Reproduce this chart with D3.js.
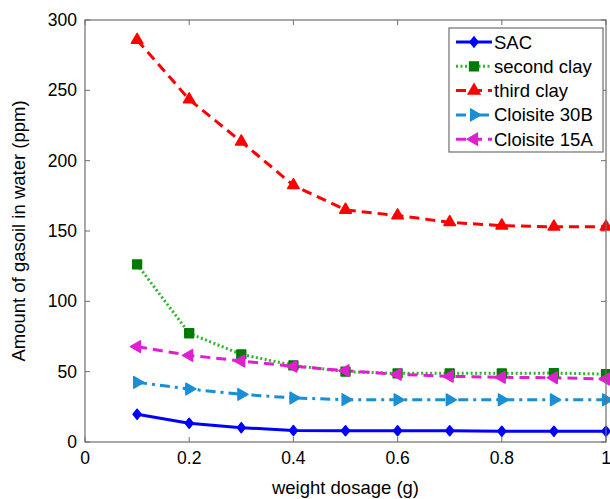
<!DOCTYPE html>
<html>
<head>
<meta charset="utf-8">
<script src="https://cdn.jsdelivr.net/npm/d3@7"></script>
<style>
  html, body { margin: 0; padding: 0; background: #fff; }
  svg { display: block; font-family: "Liberation Sans", Arial, sans-serif; }
</style>
</head>
<body>
<svg id="chart" width="610" height="499"></svg>
<script>
// Gasoil remaining in water vs. adsorbent dosage
const dosage = [0.1, 0.2, 0.3, 0.4, 0.5, 0.6, 0.7, 0.8, 0.9, 1.0];
const sac         = [19.7, 13.3, 10.2, 8.1, 8.0, 8.0, 8.0, 7.6, 7.6, 7.6];
const secondClay  = [126.3, 77.3, 62.3, 54.5, 50.0, 48.8, 48.8, 48.8, 49.0, 48.3];
const thirdClay   = [285.8, 243.5, 213.5, 182.5, 165.0, 161.0, 156.2, 153.8, 153.0, 153.0];
const cloisite30B = [42.4, 37.7, 33.9, 31.3, 30.1, 30.0, 30.0, 30.0, 30.0, 30.0];
const cloisite15A = [67.8, 61.6, 57.6, 53.8, 50.7, 48.1, 46.7, 46.0, 45.7, 44.8];
const seriesNames = ["SAC", "second clay", "third clay", "Cloisite 30B", "Cloisite 15A"];
const xTicks = [0, 0.2, 0.4, 0.6, 0.8, 1];
const yTicks = [0, 50, 100, 150, 200, 250, 300];

// Rhombus marker a little wider than d3's built-in diamond
const rhombus = {
  draw(ctx, size) {
    const h = Math.sqrt(size * 0.6), w = h * 0.8;
    ctx.moveTo(0, -h); ctx.lineTo(w, 0); ctx.lineTo(0, h); ctx.lineTo(-w, 0); ctx.closePath();
  }
};

const series = [
  { name: seriesNames[0], values: sac,         line: "#0000ff", fill: "#0000ff", dash: null,       symbol: rhombus,           size: 42, rot: 0 },
  { name: seriesNames[1], values: secondClay,  line: "#2db52d", fill: "#007a00", dash: "2,2.5",    symbol: d3.symbolSquare,   size: 78, rot: 0 },
  { name: seriesNames[2], values: thirdClay,   line: "#ff0000", fill: "#ff0000", dash: "10,6",     symbol: d3.symbolTriangle, size: 58, rot: 0 },
  { name: seriesNames[3], values: cloisite30B, line: "#1a8fd5", fill: "#1a8fd5", dash: "10,5,3,5", symbol: d3.symbolTriangle, size: 58, rot: 90 },
  { name: seriesNames[4], values: cloisite15A, line: "#e020d0", fill: "#e020d0", dash: "10,6",     symbol: d3.symbolTriangle, size: 58, rot: -90 }
];

const svg = d3.select("#chart");
const m = { left: 85, right: 4, top: 20, bottom: 57 };
const W = 610, H = 499;
const x = d3.scaleLinear().domain([0, 1]).range([m.left, W - m.right]);
const y = d3.scaleLinear().domain([0, 300]).range([H - m.bottom, m.top]);

const axisColor = "#6e6e6e";
const tickFont = 17.5;
const titleFont = 18.5;
const legendFont = 18.5;

// Tick marks (inward) on all four sides
const ticksG = svg.append("g").attr("stroke", axisColor).attr("stroke-width", 1);
xTicks.forEach(t => {
  ticksG.append("line").attr("x1", x(t)).attr("x2", x(t)).attr("y1", y(0)).attr("y2", y(0) - 5);
  ticksG.append("line").attr("x1", x(t)).attr("x2", x(t)).attr("y1", y(300)).attr("y2", y(300) + 5);
});
yTicks.forEach(t => {
  ticksG.append("line").attr("x1", x(0)).attr("x2", x(0) + 5).attr("y1", y(t)).attr("y2", y(t));
  ticksG.append("line").attr("x1", x(1)).attr("x2", x(1) - 5).attr("y1", y(t)).attr("y2", y(t));
});

// Tick labels
svg.append("g").selectAll("text").data(xTicks).join("text")
  .attr("x", d => x(d)).attr("y", y(0) + 22)
  .attr("text-anchor", "middle").attr("font-size", tickFont).attr("fill", "#000")
  .text(d => d3.format("~g")(d));
svg.append("g").selectAll("text").data(yTicks).join("text")
  .attr("x", x(0) - 8).attr("y", d => y(d) + 6)
  .attr("text-anchor", "end").attr("font-size", tickFont).attr("fill", "#000")
  .text(d => d);

// Axis titles
svg.append("text")
  .attr("x", (x(0) + x(1)) / 2).attr("y", 494)
  .attr("text-anchor", "middle").attr("font-size", titleFont).attr("fill", "#000")
  .text("weight dosage (g)");
svg.append("text")
  .attr("transform", `translate(25,${(y(0) + y(300)) / 2}) rotate(-90)`)
  .attr("text-anchor", "middle").attr("font-size", titleFont).attr("fill", "#000")
  .text("Amount of gasoil in water (ppm)");

// Data lines and markers
const line = d3.line().x((d, i) => x(dosage[i])).y(d => y(d));
const plot = svg.append("g");
series.forEach(s => {
  plot.append("path")
    .attr("d", line(s.values))
    .attr("fill", "none")
    .attr("stroke", s.line)
    .attr("stroke-width", 3)
    .attr("stroke-dasharray", s.dash)
    .attr("stroke-linejoin", "round");
});
series.forEach(s => {
  const sym = d3.symbol().type(s.symbol).size(s.size);
  plot.append("g").selectAll("path").data(s.values).join("path")
    .attr("d", sym)
    .attr("transform", (d, i) => `translate(${x(dosage[i])},${y(d)}) rotate(${s.rot})`)
    .attr("fill", s.fill)
    .attr("stroke", s.fill)
    .attr("stroke-width", 1.5)
    .attr("stroke-linejoin", "round");
});

// Plot frame
svg.append("rect")
  .attr("x", x(0)).attr("y", y(300))
  .attr("width", x(1) - x(0)).attr("height", y(0) - y(300))
  .attr("fill", "none").attr("stroke", axisColor).attr("stroke-width", 1.2);

// Legend
const lg = svg.append("g");
const lx = 449, ly = 28, lw = 154, lh = 124;
lg.append("rect").attr("x", lx).attr("y", ly).attr("width", lw).attr("height", lh)
  .attr("fill", "#fff").attr("stroke", axisColor).attr("stroke-width", 1.2);
series.forEach((s, i) => {
  const cy = 42 + i * 24.3;
  lg.append("line").attr("x1", 456).attr("x2", 492).attr("y1", cy).attr("y2", cy)
    .attr("stroke", s.line).attr("stroke-width", 3).attr("stroke-dasharray", s.dash);
  lg.append("path").attr("d", d3.symbol().type(s.symbol).size(s.size)())
    .attr("transform", `translate(474,${cy}) rotate(${s.rot})`)
    .attr("fill", s.fill).attr("stroke", s.fill).attr("stroke-width", 1.5);
  lg.append("text").attr("x", 494).attr("y", cy + 6.5)
    .attr("font-size", legendFont).attr("fill", "#000").text(s.name);
});
</script>
</body>
</html>
